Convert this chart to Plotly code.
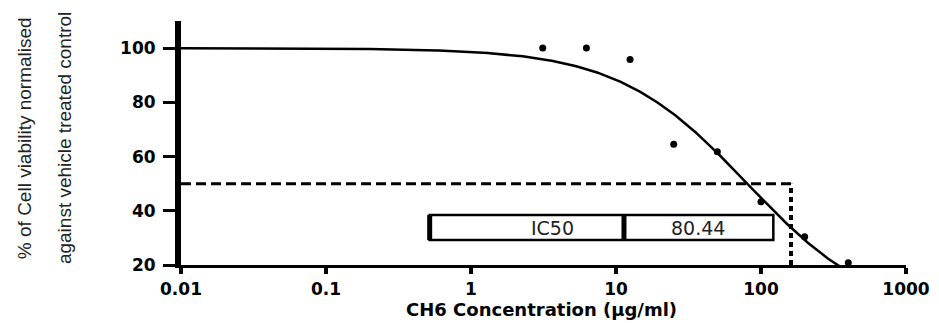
import numpy as np
import plotly.graph_objects as go

# ---- data ----
concentration = [3.125, 6.25, 12.5, 25, 50, 100, 200, 400]
viability = [100, 100, 95.8, 64.5, 61.8, 43.3, 30.4, 20.8]

x_tick_vals = [0.01, 0.1, 1, 10, 100, 1000]
x_tick_text = ["0.01", "0.1", "1", "10", "100", "1000"]
y_tick_vals = [20, 40, 60, 80, 100]

ic50_value = 80.44
hill_slope = 0.97
half_response = 50
guide_x = 161          # where the dotted drop line sits
x_start = 0.01

# fitted curve (normalised response, variable slope) from the reported IC50
curve_x = np.logspace(-2, 3, 400)
curve_y = 100 / (1 + (curve_x / ic50_value) ** hill_slope)

fig = go.Figure()

# dashed horizontal at 50 %
fig.add_trace(go.Scatter(x=[x_start, guide_x], y=[half_response, half_response],
                         mode="lines", line=dict(color="black", width=3, dash="10px,5px"),
                         hoverinfo="skip", showlegend=False))
# dotted vertical drop line
fig.add_trace(go.Scatter(x=[guide_x, guide_x], y=[20, half_response],
                         mode="lines", line=dict(color="black", width=4, dash="5px,4px"),
                         hoverinfo="skip", showlegend=False))
# fitted curve
fig.add_trace(go.Scatter(x=curve_x, y=curve_y, mode="lines",
                         line=dict(color="black", width=2.5), showlegend=False))
# data points
fig.add_trace(go.Scatter(x=concentration, y=viability, mode="markers",
                         marker=dict(color="black", size=7), cliponaxis=False,
                         showlegend=False))

tick_font = dict(family="DejaVu Sans", size=17, color="black", weight="bold")

fig.update_xaxes(type="log", range=[-2, 3], tickvals=x_tick_vals, ticktext=x_tick_text,
                 showline=True, linewidth=3, linecolor="black",
                 ticks="outside", ticklen=6, tickwidth=4, tickcolor="black",
                 showgrid=False, zeroline=False, tickfont=tick_font,
                 ticklabelstandoff=1, automargin=False)
fig.update_yaxes(range=[20, 110], tickvals=y_tick_vals,
                 showline=True, linewidth=6, linecolor="black",
                 ticks="outside", ticklen=12, tickwidth=3, tickcolor="black",
                 showgrid=False, zeroline=False, tickfont=tick_font,
                 ticklabelstandoff=4, automargin=False)

# IC50 table box
box = dict(x0=0.343, x1=0.817, y0=0.102, y1=0.205)
fig.add_shape(type="rect", xref="x domain", yref="y domain", **box,
              line=dict(color="black", width=2.5), fillcolor="rgba(0,0,0,0)")
fig.add_shape(type="line", xref="x domain", yref="y domain",
              x0=box["x0"], x1=box["x0"], y0=box["y0"], y1=box["y1"],
              line=dict(color="black", width=5))
fig.add_shape(type="line", xref="x domain", yref="y domain",
              x0=0.611, x1=0.611, y0=box["y0"], y1=box["y1"],
              line=dict(color="black", width=5))

cell_font = dict(family="DejaVu Sans", size=19, color="#222")
fig.add_annotation(text="IC50", xref="x domain", yref="y domain", x=0.512, y=0.152,
                   xanchor="center", yanchor="middle", showarrow=False, font=cell_font)
fig.add_annotation(text=f"{ic50_value:.2f}", xref="x domain", yref="y domain", x=0.713, y=0.152,
                   xanchor="center", yanchor="middle", showarrow=False, font=cell_font)

# axis titles
fig.add_annotation(text="CH6 Concentration (μg/ml)", xref="paper", yref="paper",
                   x=0.4966, y=-0.184, xanchor="center", yanchor="middle", showarrow=False,
                   borderpad=0,
                   font=dict(family="DejaVu Sans", size=18, color="black", weight="bold"))
ytitle_font = dict(family="Liberation Sans, Arial", size=19, color="#222")
fig.add_annotation(text="% of Cell viability normalised", xref="paper", yref="paper",
                   x=-0.2165, y=0.52, xanchor="center", yanchor="middle", textangle=-90,
                   showarrow=False, font=ytitle_font)
fig.add_annotation(text="against vehicle treated control", xref="paper", yref="paper",
                   x=-0.1614, y=0.52, xanchor="center", yanchor="middle", textangle=-90,
                   showarrow=False, font=ytitle_font)

fig.update_layout(width=939, height=323,
                  margin=dict(l=181, r=33, t=21, b=58, autoexpand=False),
                  paper_bgcolor="white", plot_bgcolor="white", showlegend=False)

fig.write_html("out.html", config={"displayModeBar": False},
               post_script="document.body.style.margin='0';document.body.style.overflow='hidden';")
